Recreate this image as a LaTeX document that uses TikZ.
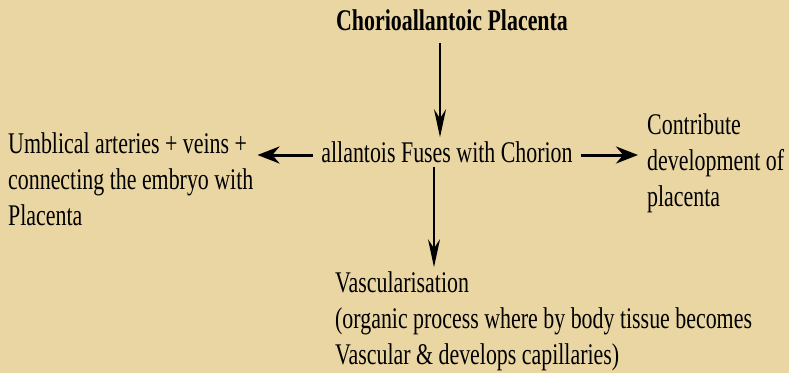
\documentclass[tikz,border=0pt]{standalone}
\usepackage{fontspec}
\setmainfont{Liberation Serif}[FakeStretch=0.73]
\usetikzlibrary{arrows.meta}
\definecolor{papyrus}{RGB}{234,214,163}
\tikzset{
  txt/.style={font=\fontsize{30}{36}\selectfont, align=left, inner sep=4pt},
  hlink/.style={-{Stealth[length=22pt,width=17pt]}, line width=3pt},
  vlink/.style={-{Stealth[length=28pt,width=12pt]}, line width=2pt}
}
\begin{document}
\begin{tikzpicture}[x=1pt, y=1pt]
\fill[papyrus] (0,0) rectangle (789,373);
\useasboundingbox (0,0) rectangle (789,373);
\node[txt, font=\fontsize{30}{36}\selectfont\bfseries] (title) at (452,353) {Chorioallantoic Placenta};
\node[txt] (fuse) at (447,221) {allantois Fuses with Chorion};
\node[txt, anchor=west] (vessels) at (4,194) {Umblical arteries + veins +\\connecting the embryo with\\Placenta};
\node[txt, anchor=west] (contrib) at (643,210) {Contribute\\development of\\placenta};
\node[txt, anchor=west] (vasc) at (331,52) {Vascularisation\\(organic process where by body tissue becomes\\Vascular \& develops capillaries)};
\draw[vlink] ([xshift=-12pt, yshift=-8pt]title.south) -- ([xshift=-7pt]fuse.north);
\draw[hlink] ([xshift=-4pt, yshift=-3pt]fuse.west) -- ([yshift=-3pt]vessels.east |- fuse.west);
\draw[hlink] ([xshift=4pt, yshift=-3pt]fuse.east) -- ([xshift=-5pt, yshift=-3pt]contrib.west |- fuse.east);
\draw[vlink] ([xshift=-13pt]fuse.south) -- ([xshift=-13pt]fuse.south |- vasc.north);
\end{tikzpicture}
\end{document}
